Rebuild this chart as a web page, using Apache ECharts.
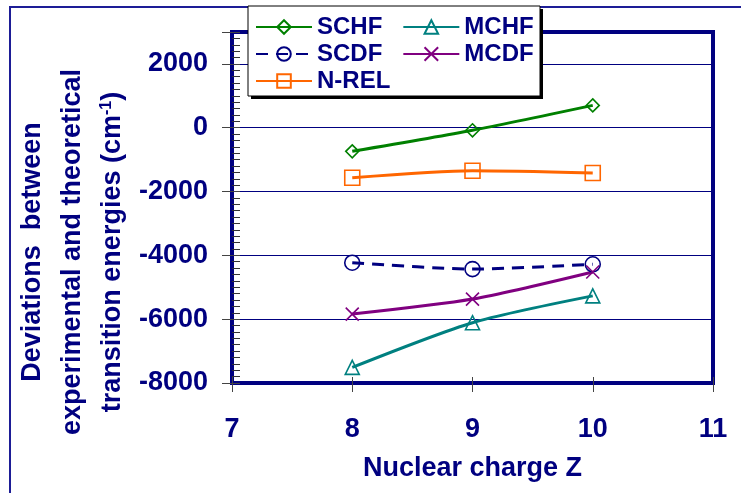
<!DOCTYPE html>
<html>
<head>
<meta charset="utf-8">
<script src="https://cdn.jsdelivr.net/npm/echarts@6/dist/echarts.min.js"></script>
<style>
  html, body { margin: 0; padding: 0; background: #ffffff; }
  #chart { width: 741px; height: 493px; }
</style>
</head>
<body>
<div id="chart"></div>
<script>
// Nuclear charge of each ion and the deviations (cm^-1) per method
const nuclearCharge = [8, 9, 10];
const schf = [-740, -80, 700];
const scdf = [-4230, -4430, -4280];
const nrel = [-1570, -1350, -1420];
const mchf = [-7510, -6110, -5270];
const mcdf = [-5840, -5370, -4520];

const xTicks = { min: 7, max: 11, step: 1 };
const yTicks = { min: -8000, max: 3000, step: 2000 };

// legend rows, as laid out in the key box
const legendRows = [['SCHF', 'MCHF'], ['SCDF', 'MCDF'], ['N-REL']];

const NAVY = '#000080';
const FONT = 'Liberation Sans, Arial, sans-serif';

function pairs(values) {
  return nuclearCharge.map((z, i) => [z, values[i]]);
}

function lineSeries(name, values, color, symbol, size, dashed) {
  return {
    name: name,
    type: 'line',
    xAxisIndex: 0,
    yAxisIndex: 0,
    data: pairs(values),
    smooth: 0.25,
    symbol: symbol,
    symbolSize: size,
    showAllSymbol: true,
    z: 2,
    lineStyle: { color: color, width: 3, type: dashed ? [12, 8] : 'solid' },
    itemStyle: { color: 'rgba(255,255,255,0)', borderColor: color, borderWidth: 1.6 },
    emphasis: { disabled: true }
  };
}

function legendRow(names, top) {
  return {
    z: 6,
    left: 255, top: top,
    orient: 'horizontal',
    padding: 0,
    itemGap: 20,
    itemWidth: 56,
    itemHeight: 17,
    itemTextGap: 6,
    selectedMode: false,
    data: names,
    textStyle: { fontSize: 24, fontWeight: 'bold', color: NAVY, fontFamily: FONT }
  };
}

const chart = echarts.init(document.getElementById('chart'), null, { renderer: 'canvas' });

const option = {
  animation: false,
  backgroundColor: '#ffffff',
  grid: {
    left: 232, top: 32, right: 28, bottom: 110,
    show: true, borderColor: NAVY, borderWidth: 4, backgroundColor: 'transparent'
  },
  xAxis: [
    {
      type: 'value', position: 'bottom',
      min: xTicks.min, max: xTicks.max, interval: xTicks.step,
      axisLine: { show: false, onZero: false },
      axisTick: { show: true, inside: true, length: 6, lineStyle: { color: '#444', width: 1 } },
      splitLine: { show: false },
      axisLabel: { margin: 33, fontSize: 27, fontWeight: 'bold', color: NAVY, fontFamily: FONT },
      name: 'Nuclear charge Z', nameLocation: 'middle', nameGap: 72,
      nameTextStyle: { fontSize: 27, fontWeight: 'bold', color: NAVY, fontFamily: FONT }
    },
    {
      type: 'value', position: 'bottom',
      min: xTicks.min, max: xTicks.max, interval: xTicks.step,
      axisLine: { show: false, onZero: false },
      axisTick: { show: true, inside: false, length: 9, lineStyle: { color: '#444', width: 1 } },
      splitLine: { show: false },
      axisLabel: { show: false }
    }
  ],
  yAxis: [
    {
      type: 'value', position: 'left',
      min: yTicks.min, max: yTicks.max, interval: yTicks.step,
      axisLine: { show: false, onZero: false },
      axisTick: { show: true, inside: true, length: 8, lineStyle: { color: '#444', width: 1 } },
      minorTick: { show: true, splitNumber: 10, length: 8, lineStyle: { color: '#333', width: 1 } },
      splitLine: { show: true, lineStyle: { color: NAVY, width: 1 } },
      axisLabel: {
        margin: 24, fontSize: 27, fontWeight: 'bold', color: NAVY, fontFamily: FONT,
        showMaxLabel: false,
        formatter: (v) => String(v)
      }
    },
    {
      type: 'value', position: 'left',
      min: yTicks.min, max: yTicks.max, interval: yTicks.step,
      axisLine: { show: false, onZero: false },
      axisTick: { show: true, inside: false, length: 10, lineStyle: { color: '#444', width: 1 } },
      splitLine: { show: false },
      axisLabel: { show: false }
    }
  ],
  legend: [
    legendRow(legendRows[0], 15),
    legendRow(legendRows[1], 42),
    legendRow(legendRows[2], 69)
  ],
  graphic: [
    // outer frame
    { type: 'rect', z: 0, silent: true,
      shape: { x: 10, y: 7, width: 800, height: 600 },
      style: { fill: 'none', stroke: '#1d1d96', lineWidth: 2 } },
    // key box with a hard drop shadow
    { type: 'rect', z: 4, silent: true,
      shape: { x: 251, y: 9, width: 292, height: 90 },
      style: { fill: '#000000' } },
    { type: 'rect', z: 4, silent: true,
      shape: { x: 248, y: 6, width: 292, height: 90 },
      style: { fill: '#ffffff', stroke: '#000000', lineWidth: 1 } },
    // rotated y-axis title
    { type: 'text', z: 5, silent: true,
      x: 73, y: 252, rotation: Math.PI / 2,
      style: {
        text: 'Deviations  between\nexperimental and theoretical\ntransition energies (cm{sup|-1})',
        align: 'center', verticalAlign: 'middle',
        fontSize: 27, fontWeight: 'bold', fontFamily: FONT,
        lineHeight: 40, fill: NAVY,
        rich: {
          sup: { fontSize: 16, fontWeight: 'bold', fontFamily: FONT, fill: NAVY,
                 verticalAlign: 'top', padding: [6, 0, 0, 0] }
        }
      } }
  ],
  series: [
    lineSeries('SCHF', schf, '#008000', 'diamond', 13, false),
    lineSeries('MCHF', mchf, '#008080', 'triangle', 14, false),
    lineSeries('SCDF', scdf, NAVY, 'circle', 15, true),
    lineSeries('MCDF', mcdf, '#800080', 'path://M0,0L10,10M10,0L0,10', 13, false),
    lineSeries('N-REL', nrel, '#ff6600', 'rect', 15, false)
  ]
};

chart.setOption(option);
</script>
</body>
</html>
